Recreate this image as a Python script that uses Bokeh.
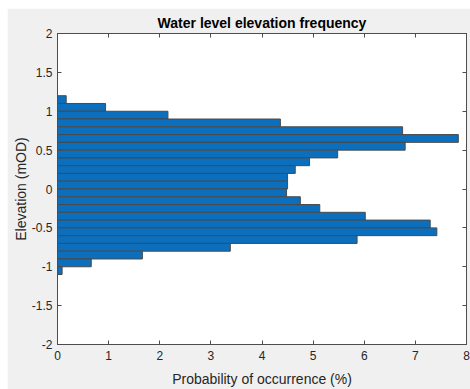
from bokeh.plotting import figure
from bokeh.models import LinearAxis, Range1d, FixedTicker, ColumnDataSource, CustomJSTickFormatter
from bokeh.embed import file_html
from bokeh.resources import INLINE

# Bin centres (mOD) and probability of occurrence (%)
elevation = [1.15, 1.05, 0.95, 0.85, 0.75, 0.65, 0.55, 0.45, 0.35, 0.25, 0.15, 0.05,
             -0.05, -0.15, -0.25, -0.35, -0.45, -0.55, -0.65, -0.75, -0.85, -0.95, -1.05]
probability = [0.17, 0.94, 2.16, 4.36, 6.75, 7.84, 6.80, 5.48, 4.93, 4.65, 4.50, 4.50,
               4.48, 4.75, 5.13, 6.02, 7.29, 7.42, 5.86, 3.38, 1.66, 0.66, 0.09]
bin_width = 0.1

x_ticks = [0, 1, 2, 3, 4, 5, 6, 7, 8]
x_tick_labels = ["0", "1", "2", "3", "4", "5", "6", "7", "8"]
y_ticks = [2, 1.5, 1, 0.5, 0, -0.5, -1, -1.5, -2]
y_tick_labels = ["2", "1.5", "1", "0.5", "0", "-0.5", "-1", "-1.5", "-2"]

FONT = "Liberation Sans"
AX = "#4d4d4d"
TXT = "#262626"

p = figure(width=463, height=381, output_backend="svg", toolbar_location=None,
           x_range=Range1d(0, 8), y_range=Range1d(-2, 2),
           title="Water level elevation frequency",
           min_border_left=50, min_border_right=4, min_border_top=25, min_border_bottom=44)
p.margin = (8, 0, 0, 7)
p.background_fill_color = "white"
p.border_fill_color = "#f0f0f0"
p.outline_line_color = AX
p.outline_line_width = 1
p.grid.visible = False

p.title.align = "center"
p.title.text_font = FONT
p.title.text_font_size = "14px"
p.title.text_font_style = "bold"
p.title.text_color = "black"
p.title.offset = 0
p.title.standoff = 6

src = ColumnDataSource(dict(y=elevation, right=probability))
p.hbar(y="y", right="right", left=0, height=bin_width, source=src,
       fill_color="#0b6fbd", line_color="#4a4a4a", line_width=1)

def style(ax, ticks, labels, show):
    ax.ticker = FixedTicker(ticks=ticks)
    if show:
        ax.major_label_overrides = {t: l for t, l in zip(ticks, labels)}
    else:
        ax.formatter = CustomJSTickFormatter(code="return ''")
    ax.minor_tick_line_color = None
    ax.major_tick_in = 4
    ax.major_tick_out = 0
    ax.major_tick_line_color = AX
    ax.axis_line_color = AX
    ax.major_label_text_font = FONT
    ax.major_label_text_font_size = "12px"
    ax.major_label_text_color = TXT
    ax.major_label_standoff = 6 if show else 0
    ax.axis_label_text_font = FONT
    ax.axis_label_text_font_size = "14px"
    ax.axis_label_text_font_style = "normal"
    ax.axis_label_text_color = TXT

xa = p.xaxis[0]
style(xa, x_ticks, x_tick_labels, True)
xa.axis_label = "Probability of occurrence (%)"
xa.axis_label_standoff = 8
ya = p.yaxis[0]
style(ya, y_ticks, y_tick_labels, True)
ya.major_label_standoff = 5
ya.axis_label = "Elevation (mOD)"
ya.axis_label_standoff = 0

top = LinearAxis()
style(top, x_ticks, x_tick_labels, False)
p.add_layout(top, "above")
right = LinearAxis()
style(right, y_ticks, y_tick_labels, False)
p.add_layout(right, "right")

open("out.html", "w").write(file_html(p, INLINE))
